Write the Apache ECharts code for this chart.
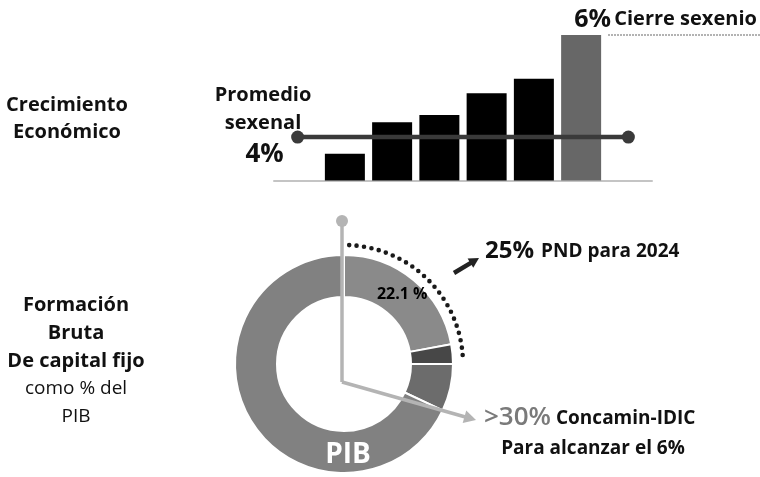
<!DOCTYPE html>
<html>
<head>
<meta charset="utf-8">
<style>
  html, body { margin: 0; padding: 0; background: #ffffff; }
  #chart { width: 760px; height: 477px; }
</style>
<script src="https://cdn.jsdelivr.net/npm/echarts@6/dist/echarts.min.js"></script>
</head>
<body>
<div id="chart"></div>
<script>
// Growth bars: one empty slot on each side so the average line can run past the bars
const growthSlots = ['inicio', 'año 1', 'año 2', 'año 3', 'año 4', 'año 5', 'año 6', 'fin'];
const growthValues = ['-', 1.1, 2.4, 2.7, 3.6, 4.2, 6.0, '-'];
const averageGrowth = 4;
const averageValues = [averageGrowth, '-', '-', '-', '-', '-', '-', averageGrowth];

// Gross fixed capital formation as share of GDP (ring, clockwise from 12 o'clock)
const ringNames = ['FBCF actual', 'Meta PND', 'Meta Concamin-IDIC', 'Resto del PIB'];
const ringValues = [22.1, 2.9, 7.0, 68.0];
const ringColors = ['#8a8a8a', '#474747', '#6c6c6c', '#818181'];

const FONT = "'Open Sans', 'Noto Sans', sans-serif";

function txt(text, x, y, size, opts) {
  opts = opts || {};
  const align = opts.align || 'center';
  return {
    type: 'text', z: 100, silent: true,
    style: {
      text: text, x: x, y: y,
      fill: opts.fill || '#111',
      font: (opts.weight || 'bold') + ' ' + size + 'px ' + FONT,
      align: align, verticalAlign: 'middle',
      textAlign: align, textVerticalAlign: 'middle'
    }
  };
}

function arrow(x1, y1, x2, y2, color, width, headLen, headHalf) {
  const dx = x2 - x1, dy = y2 - y1;
  const len = Math.sqrt(dx * dx + dy * dy);
  const ux = dx / len, uy = dy / len;
  const bx = x2 - ux * headLen, by = y2 - uy * headLen;
  const px = -uy * headHalf, py = ux * headHalf;
  return [
    { type: 'line', z: 100, silent: true,
      shape: { x1: x1, y1: y1, x2: bx + ux * 1, y2: by + uy * 1 },
      style: { stroke: color, lineWidth: width } },
    { type: 'polygon', z: 100, silent: true,
      shape: { points: [[x2, y2], [bx + px, by + py], [bx - px, by - py]] },
      style: { fill: color } }
  ];
}

const ringCx = 344, ringCy = 364;
const deg = Math.PI / 180;

const graphics = [
  // left captions
  txt('Crecimiento', 67, 105, 20),
  txt('Económico', 67, 132, 20),
  txt('Formación', 76, 305, 20),
  txt('Bruta', 76, 333, 20),
  txt('De capital fijo', 76, 361, 20),
  txt('como % del', 76, 389, 19, { weight: 'normal' }),
  txt('PIB', 76, 417, 19, { weight: 'normal' }),

  // average line caption
  txt('Promedio', 263, 95, 20),
  txt('sexenal', 263, 123, 20),

  // dotted rule after the closing-year caption
  { type: 'line', z: 100, silent: true,
    shape: { x1: 608, y1: 35, x2: 760, y2: 35 },
    style: { stroke: '#9a9a9a', lineWidth: 1.5, lineDash: [2, 1] } },

  // pointer rising from the ring centre
  { type: 'line', z: 100, silent: true,
    shape: { x1: 342, y1: 221, x2: 342, y2: 382 },
    style: { stroke: '#b4b4b4', lineWidth: 3.5 } },
  { type: 'circle', z: 100, silent: true,
    shape: { cx: 342, cy: 221, r: 6 },
    style: { fill: '#b4b4b4' } },

  // dotted arc towards the PND target
  { type: 'arc', z: 100, silent: true,
    shape: { cx: ringCx, cy: ringCy, r: 119,
             startAngle: -87.5 * deg, endAngle: -3.5 * deg, clockwise: true },
    style: { stroke: '#1a1a1a', fill: null, lineWidth: 4.6, lineDash: [0, 7.5], lineCap: 'round' } },

  // ring caption
  txt('PIB', 348, 455, 28, { fill: '#ffffff' }),

  // targets
  txt('25%', 485, 251, 24, { align: 'left' }),
  txt('PND para 2024', 541, 252, 19, { align: 'left' }),
  txt('>30%', 484, 418, 26, { align: 'left', fill: '#7a7a7a', weight: '600' }),
  txt('Concamin-IDIC', 556, 419, 19, { align: 'left' }),
  txt('Para alcanzar el 6%', 593, 449, 19)
].concat(
  arrow(342, 382, 476, 420, '#b4b4b4', 3.5, 12, 6.5),
  arrow(454, 273, 479, 258, '#222222', 4.5, 10, 5.5)
);

const chart = echarts.init(document.getElementById('chart'), null, { renderer: 'canvas' });

chart.setOption({
  animation: false,
  backgroundColor: '#ffffff',
  grid: { left: 274, width: 378, top: 35, height: 145.5 },
  xAxis: {
    type: 'category',
    data: growthSlots,
    boundaryGap: true,
    axisLine: { show: true, lineStyle: { color: '#c4c4c4', width: 2 } },
    axisTick: { show: false },
    axisLabel: { show: false },
    splitLine: { show: false }
  },
  yAxis: [
    { type: 'value', min: 0, max: 6, show: false },
    { type: 'value', min: 0, max: 13.4, show: false }
  ],
  series: [
    {
      type: 'bar',
      data: growthValues.map(function (v, i) {
        const last = i === growthValues.length - 2;
        const item = { value: v, itemStyle: { color: last ? '#676767' : '#000000' } };
        if (last) {
          item.label = {
            show: true,
            position: 'top',
            distance: 3,
            align: 'left',
            offset: [-7, 0],
            formatter: '{a|{c}%} {b|Cierre sexenio}',
            rich: {
              a: { fontFamily: FONT, fontWeight: 'bold', fontSize: 25, color: '#111' },
              b: { fontFamily: FONT, fontWeight: 'bold', fontSize: 20, color: '#111' }
            }
          };
        }
        return item;
      }),
      barWidth: 40,
      silent: true
    },
    {
      type: 'line',
      yAxisIndex: 1,
      data: averageValues.map(function (v, i) {
        const item = { value: v };
        if (i === 0) {
          item.label = {
            show: true,
            position: 'bottom',
            distance: 0,
            offset: [-33, -2],
            formatter: '{c}%',
            fontFamily: FONT, fontWeight: 'bold', fontSize: 26, color: '#111'
          };
        }
        return item;
      }),
      connectNulls: true,
      symbol: 'circle',
      symbolSize: 13,
      lineStyle: { color: '#3a3a3a', width: 4.5 },
      itemStyle: { color: '#3a3a3a' },
      silent: true,
      z: 3
    },
    {
      type: 'pie',
      center: [ringCx, ringCy],
      radius: [67, 109],
      startAngle: 90,
      clockwise: true,
      silent: true,
      label: { show: false },
      labelLine: { show: false },
      emphasis: { disabled: true },
      itemStyle: { borderColor: '#ffffff', borderWidth: 2 },
      data: ringValues.map(function (v, i) {
        const item = { name: ringNames[i], value: v, itemStyle: { color: ringColors[i] } };
        if (i === 0) {
          item.label = {
            show: true,
            position: 'inside',
            formatter: '{c} %',
            padding: [8, 0, 0, 0],
            fontFamily: FONT, fontWeight: 'bold', fontSize: 16, color: '#000'
          };
        }
        return item;
      })
    }
  ],
  graphic: { elements: graphics }
});
</script>
</body>
</html>
